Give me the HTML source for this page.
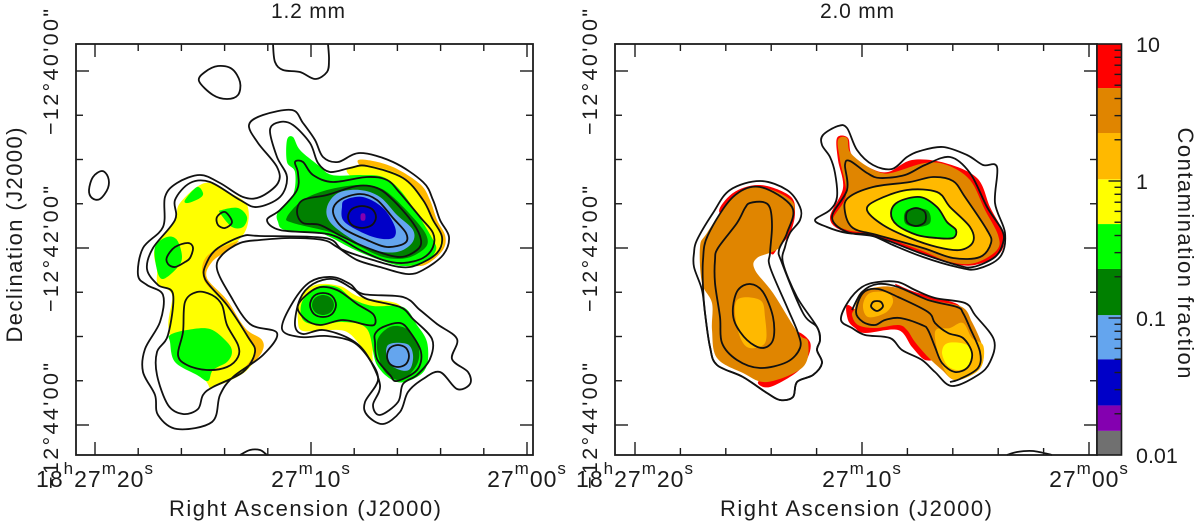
<!DOCTYPE html>
<html lang="en">
<head>
<meta charset="utf-8">
<title>Contamination fraction maps at 1.2 mm and 2.0 mm</title>
<style>
html,body{margin:0;padding:0;background:#fff;width:1200px;height:524px;overflow:hidden}
svg{display:block}
text{font-family:"Liberation Sans",sans-serif;fill:#1c1c1c}
</style>
</head>
<body>
<svg id="chart" xmlns="http://www.w3.org/2000/svg" width="1200" height="524" viewBox="0 0 1200 524">
  <text x="308" y="18" font-size="21" text-anchor="middle" textLength="74">1.2 mm</text>
  <text x="857" y="18" font-size="21" text-anchor="middle" textLength="74">2.0 mm</text>
  <text x="305" y="516" font-size="22" text-anchor="middle" textLength="272">Right Ascension (J2000)</text>
  <text x="856" y="516" font-size="22" text-anchor="middle" textLength="272">Right Ascension (J2000)</text>
  <text transform="translate(22,235) rotate(-90)" font-size="22" text-anchor="middle" textLength="215">Declination (J2000)</text>
  <text transform="translate(1178,253) rotate(90)" font-size="22" text-anchor="middle" textLength="251">Contamination fraction</text>
  <g id="maps"></g>
  <g id="axes"></g>
  <g id="bar"></g>
</svg>
<script>
/* ---------- axis data ---------- */
const raTickSeconds = [20,18,16,14,12,10,8,6,4,2,0];
const raLabelSeconds = [20,10,0];
const raLabelParts = [["18","h","27","m","20","s"],["27","m","10","s"],["27","m","00","s"]];
const decTickArcsec = [0,30,60,90,120,150,180,210,240];
const decLabelArcsec = [0,120,240];
const decLabels = ["\u221212\u00b040'00\"","\u221212\u00b042'00\"","\u221212\u00b044'00\""];

/* ---------- colour bar data ---------- */
const bandEdges = [0.01,0.015,0.023,0.05,0.105,0.228,0.485,1.03,2.24,4.77,10];
const bandColors = ["#707070","#8400b0","#0000c8","#64a5ee","#008000","#00ff00","#ffff00","#ffb900","#e08500","#ff0000"];
const barMultipliers = [2,3,4,5,6,7,8,9];
const barDecades = [0.01,0.1,1];
const barMajorValues = [0.1,1];
const barLabelValues = [10,1,0.1,0.01];
const barLabels = ["10","1","0.1","0.01"];

/* ---------- 1.2 mm contour vertices (map grid cells) ---------- */
const L_outer = [[249,125],[263,115],[292,110],[303,123],[315,140],[323,157],[338,162],[360,153],[393,162],[423,182],[433,200],[440,220],[449,237],[443,255],[423,270],[407,274],[380,267],[357,260],[337,247],[323,240],[290,238],[260,240],[240,243],[222,255],[217,269],[230,295],[250,324],[277,333],[263,355],[233,377],[220,395],[212,422],[177,429],[158,415],[155,395],[143,372],[145,349],[160,322],[163,295],[147,285],[138,275],[143,248],[163,227],[165,197],[177,183],[200,175],[220,183],[243,197],[260,197],[278,183],[277,167],[258,143]];
const L_second = [[270,130],[280,122],[293,125],[310,143],[318,163],[330,172],[350,168],[367,166],[403,178],[423,200],[433,220],[442,237],[437,253],[417,265],[400,267],[373,260],[343,250],[325,238],[260,236],[243,236],[218,248],[207,262],[205,279],[227,305],[248,337],[255,352],[243,372],[213,387],[203,395],[198,409],[183,414],[168,405],[157,375],[157,352],[168,335],[173,294],[158,285],[147,269],[153,248],[175,220],[175,200],[190,183],[210,182],[240,200],[257,207],[280,197],[287,177],[277,157]];
const L_third = [[295,162],[303,162],[313,175],[333,182],[367,177],[387,180],[400,193],[420,217],[433,233],[433,247],[423,258],[403,263],[383,260],[360,250],[337,237],[320,233],[280,230],[267,220],[280,210],[297,190],[298,173]];
const L_fourth = [[297,212],[303,200],[327,195],[357,186],[377,188],[393,200],[413,223],[421,240],[417,250],[400,257],[373,250],[343,237],[320,225],[303,223]];
const L_fifth = [[333,212],[340,200],[360,194],[377,200],[393,218],[406,233],[405,243],[387,247],[367,240],[343,228]];
const L_peak = [[362,206],[372,209],[376,217],[372,225],[362,228],[352,225],[348,217],[352,209]];
const L_topOval = [[199,81],[205,72],[218,66],[232,69],[240,82],[238,95],[227,99],[213,95]];
const L_sideOval = [[89,190],[93,177],[102,171],[108,177],[108,188],[100,199],[92,198]];
const L_topEdge = [[273,44],[275,62],[283,70],[300,72],[315,79],[327,72],[329,60],[328,44]];
const L_bottomEdge = [[240,455],[250,450],[260,450],[267,455]];
const L_ovalA = [[217,217],[225,212],[232,222],[225,228],[218,225]];
const L_ovalB = [[167,257],[175,247],[188,243],[193,248],[190,258],[185,262],[175,267],[168,264]];
const L_ovalC = [[185,302],[197,292],[212,295],[222,305],[227,325],[238,345],[238,357],[227,367],[207,370],[187,365],[178,355],[183,332]];
const LR_outer = [[282,329],[293,302],[310,282],[332,277],[350,284],[363,294],[403,297],[420,310],[437,324],[457,339],[452,359],[468,372],[470,384],[457,389],[440,372],[423,379],[408,392],[400,412],[383,424],[367,415],[365,402],[378,380],[370,360],[353,342],[327,336],[300,337]];
const LR_second = [[295,325],[300,299],[313,284],[333,279],[353,289],[367,299],[400,307],[413,319],[432,339],[430,359],[417,375],[403,384],[398,402],[380,415],[373,405],[380,385],[367,355],[350,339],[323,330],[303,334]];
const LR_thirdA = [[298,305],[317,288],[337,290],[357,304],[373,314],[375,324],[367,325],[343,320],[320,325],[305,319]];
const LR_thirdB = [[375,334],[375,342],[377,359],[390,375],[397,381],[417,370],[421,352],[410,332],[400,323],[383,327]];
const LR_peakA = [[323,293],[332,296],[336,305],[332,314],[323,317],[314,314],[310,305],[314,296]];
const LR_peakB = [[398,345],[406,348],[409,356],[406,364],[398,367],[390,364],[387,356],[390,348]];

/* ---------- 1.2 mm fraction regions (map grid cells) ---------- */
const LF_blobYellow = [[180,203],[205,183],[230,193],[247,205],[247,227],[235,243],[207,258],[205,278],[227,305],[250,335],[257,352],[245,372],[213,387],[205,380],[170,335],[172,295],[158,285],[157,270],[155,248],[175,220]];
const LF_blobOrange = [[207,256],[238,241],[228,250],[212,262],[207,278],[227,300],[245,328],[262,340],[262,352],[250,366],[244,369],[255,352],[248,337],[227,305],[204,280]];
const LF_greenA = [[185,200],[197,187],[203,193],[200,198],[188,203]];
const LF_greenB = [[222,210],[238,208],[247,217],[243,227],[232,227],[220,213]];
const LF_greenC = [[155,247],[167,237],[177,240],[182,257],[177,268],[163,279],[157,270]];
const LF_greenD = [[170,335],[187,330],[210,329],[227,342],[232,352],[227,362],[213,370],[208,381],[197,375],[175,362],[170,342]];
const LF_topOrange = [[358,163],[367,160],[393,167],[420,184],[430,200],[437,220],[445,235],[444,248],[433,260],[420,266],[405,260],[400,220],[380,185]];
const LF_topYellow = [[347,172],[360,165],[377,167],[400,175],[417,190],[427,207],[440,233],[443,245],[435,255],[420,265],[403,265],[385,255],[375,200]];
const LF_topGreen = [[287,140],[293,137],[300,150],[318,165],[332,175],[360,175],[383,177],[400,190],[418,215],[432,238],[436,250],[425,262],[403,266],[380,260],[355,250],[330,237],[318,233],[285,230],[278,222],[278,212],[293,195],[295,172],[287,162]];
const LF_topDark = [[287,217],[303,200],[327,190],[357,185],[377,187],[393,197],[417,222],[427,237],[425,248],[407,258],[383,257],[357,245],[333,233],[293,223]];
const LF_topLight = [[327,207],[338,193],[360,190],[380,197],[397,215],[413,230],[412,243],[397,252],[373,250],[350,238],[330,222]];
const LF_topBlue = [[342,207],[345,200],[363,197],[383,208],[395,227],[393,238],[377,238],[357,230],[343,220]];
const LF_topPurple = [[361,214],[365,214],[365,220],[361,220]];
const LF_lowYellow = [[298,322],[300,299],[315,285],[340,286],[360,297],[398,304],[400,320],[375,345],[372,362],[363,349],[347,332],[325,330],[303,331]];
const LF_lowGreen = [[302,302],[317,287],[337,287],[353,299],[373,306],[403,307],[417,325],[427,342],[427,365],[417,377],[397,382],[377,365],[367,329],[343,322],[320,325],[303,320]];
const LF_lowDarkA = [[377,342],[390,327],[407,329],[418,345],[418,362],[407,377],[397,380],[383,369]];
const LF_lowDarkB = [[323,295],[331,298],[334,305],[331,312],[323,315],[315,312],[312,305],[315,298]];
const LF_lowLight = [[388,345],[407,344],[413,355],[410,369],[400,370],[388,362]];

/* ---------- 2.0 mm contour vertices (map grid cells) ---------- */
const R_outer = [[694,253],[697,240],[713,213],[730,190],[760,181],[787,190],[800,207],[800,220],[790,233],[785,247],[783,263],[797,297],[817,327],[820,340],[817,350],[822,363],[813,375],[797,382],[793,397],[780,400],[767,393],[743,377],[717,365],[710,347],[705,313],[702,290],[694,267]];
const R_second = [[703,260],[708,235],[733,197],[760,187],[792,207],[787,233],[779,250],[782,263],[803,313],[817,327],[820,340],[817,350],[822,363],[813,375],[797,382],[793,397],[780,400],[767,393],[743,377],[717,365],[710,347],[705,313],[703,287]];
const R_third = [[715,260],[718,248],[737,223],[745,208],[750,203],[763,202],[770,208],[772,227],[770,253],[770,267],[787,307],[798,333],[800,348],[787,362],[760,368],[737,360],[722,343],[720,317],[715,283]];
const R_fourth = [[733,307],[738,290],[750,284],[763,292],[773,317],[773,340],[762,348],[747,340],[735,323]];
const RT_outer = [[815,220],[830,210],[837,197],[835,173],[830,157],[822,145],[823,135],[838,126],[847,128],[857,150],[873,165],[892,169],[907,157],[920,151],[943,147],[967,155],[983,165],[997,167],[995,203],[1005,233],[1000,257],[977,269],[957,267],[923,257],[893,245],[870,235],[847,233],[827,227]];
const RT_second = [[832,217],[847,190],[845,165],[850,161],[867,173],[880,178],[905,175],[925,165],[950,157],[970,173],[987,207],[1002,230],[1003,243],[995,257],[973,267],[957,265],[920,253],[877,237],[847,232]];
const RT_third = [[845,212],[848,198],[873,187],[910,182],[933,177],[953,181],[965,197],[987,230],[991,243],[980,257],[953,258],[923,248],[877,235],[853,228]];
const RT_fourth = [[867,210],[877,200],[907,190],[937,192],[950,207],[970,227],[973,242],[960,250],[937,247],[910,238],[883,225]];
const RT_fifth = [[891,213],[898,202],[920,197],[937,207],[947,222],[956,230],[953,238],[937,238],[917,235],[897,225]];
const RT_peak = [[916,208],[924,211],[926,217],[924,223],[916,226],[908,223],[906,217],[908,211]];
const RL_outer = [[841,320],[848,302],[862,287],[878,282],[898,282],[915,290],[935,298],[965,303],[975,315],[994,340],[990,362],[978,375],[952,386],[935,372],[922,360],[902,350],[890,338],[865,335],[852,328]];
const RL_second = [[852,310],[862,292],[878,284],[898,287],[928,300],[957,307],[963,313],[970,328],[980,352],[978,368],[960,379],[950,382]];
const RL_third = [[856,312],[863,293],[878,289],[898,297],[928,312],[935,323],[948,333],[963,338],[972,353],[968,367],[955,372],[942,363],[935,347],[928,330],[922,325],[900,318],[885,320],[875,325],[863,322]];
const RL_oval = [[877,301],[881,302],[883,306],[881,309],[877,311],[873,309],[871,306],[873,302]];
const R_bottomEdge = [[1007,455],[1017,452],[1033,451],[1052,455]];

/* ---------- 2.0 mm fraction regions (map grid cells) ---------- */
const RF_redA = [[720,213],[733,193],[760,185],[790,196],[795,213],[790,233],[778,248],[770,252],[757,210]];
const RF_redB = [[798,332],[810,342],[808,357],[797,372],[770,387],[758,382],[777,370],[797,343]];
const RF_mainOrange = [[700,247],[707,233],[733,197],[760,187],[791,200],[793,217],[780,247],[757,258],[755,270],[773,293],[798,333],[808,342],[803,367],[767,382],[743,373],[717,358],[712,330],[712,303],[702,283]];
const RF_mainLight = [[737,300],[760,300],[765,317],[765,343],[747,347],[737,327]];
const RF_topRed = [[830,218],[843,188],[838,160],[837,138],[848,138],[852,155],[870,168],[888,172],[912,160],[945,163],[977,178],[990,207],[1003,233],[1000,253],[975,265],[950,263],[920,253],[877,237],[845,232]];
const RF_topOrange = [[833,220],[846,195],[840,160],[838,140],[847,138],[850,152],[865,165],[882,173],[895,172],[925,163],[947,165],[970,180],[985,210],[998,235],[997,250],[975,263],[950,262],[920,250],[877,235],[847,230]];
const RF_topDark = [[907,210],[927,210],[930,223],[917,227],[905,223]];
const RF_lowRedA = [[848,305],[848,320],[855,328],[865,333],[898,330],[912,347],[925,360],[935,355],[905,325],[870,320]];
const RF_lowRedB = [[895,284],[915,292],[955,303],[955,308],[915,298]];
const RF_lowOrange = [[855,308],[860,293],[878,287],[898,288],[932,300],[962,307],[972,322],[982,345],[983,362],[975,373],[955,380],[942,370],[928,357],[915,342],[907,330],[898,325],[875,328],[858,325],[852,315]];
const RF_lowLightA = [[863,305],[870,293],[888,293],[893,302],[885,313],[868,317]];
const RF_lowLightB = [[935,332],[950,328],[963,323],[972,338],[983,345],[983,362],[975,373],[955,380],[942,365]];
const RF_lowYellow = [[942,352],[948,343],[967,345],[972,358],[968,367],[957,370],[947,365]];

/* ---------- scales ---------- */
const NS = "http://www.w3.org/2000/svg";
const panels = {
  left:  {x:76,  y:44, w:457, h:411, ra20:95,  ra0:527,  refX:76,  refY:44, id:"left"},
  right: {x:615, y:44, w:482, h:411, ra20:635, ra0:1089, refX:615, refY:44, id:"right"}
};
function raScale(p, sec){ return p.ra0 + (p.ra20 - p.ra0) * sec / 20; }
function decScale(arcsec){ return 71 + arcsec * 1.475; }
function gridX(p, cell){ return p.x + (cell - p.refX); }
function gridY(p, cell){ return p.y + (cell - p.refY); }
function barScale(v){ return 455 - (Math.log10(v) + 2) * 137; }
function bandColor(v){
  for (let i = 0; i < bandColors.length; i++) { if (v < bandEdges[i+1]) return bandColors[i]; }
  return bandColors[bandColors.length-1];
}

/* ---------- drawing helpers ---------- */
function add(parent, tag, name, attrs){
  const el = document.createElementNS(NS, tag);
  
  
  for (const k in attrs) el.setAttribute(k, attrs[k]);
  parent.appendChild(el);
  return el;
}
function smooth(pts, closed){
  const n = pts.length;
  const at = i => closed ? pts[(i+n)%n] : pts[Math.max(0,Math.min(n-1,i))];
  let d = "M" + pts[0][0].toFixed(1) + " " + pts[0][1].toFixed(1);
  const last = closed ? n : n-1;
  for (let i = 0; i < last; i++) {
    const p0 = at(i-1), p1 = at(i), p2 = at(i+1), p3 = at(i+2);
    const c1x = p1[0] + (p2[0]-p0[0])/6, c1y = p1[1] + (p2[1]-p0[1])/6;
    const c2x = p2[0] - (p3[0]-p1[0])/6, c2y = p2[1] - (p3[1]-p1[1])/6;
    d += "C" + c1x.toFixed(1) + " " + c1y.toFixed(1) + " " + c2x.toFixed(1) + " " + c2y.toFixed(1) + " " + p2[0].toFixed(1) + " " + p2[1].toFixed(1);
  }
  return d + (closed ? "Z" : "");
}
function project(p, cells){ return cells.map(c => [gridX(p,c[0]), gridY(p,c[1])]); }
function region(g, p, cells, fraction, name){
  add(g, "path", name, {d: smooth(project(p,cells), true), fill: bandColor(fraction), stroke: "none"});
}
function contour(g, p, cells, name, open){
  add(g, "path", name, {d: smooth(project(p,cells), !open), fill: "none", stroke: "#111", "stroke-width": 1.8, "stroke-linejoin": "round"});
}

/* ---------- maps ---------- */
const maps = document.getElementById("maps");
const gL = add(maps, "g", "map-1-2mm", {});
const gR = add(maps, "g", "map-2-0mm", {});
const L = panels.left, R = panels.right;

region(gL,L,LF_blobYellow,0.7,"region-yellow-west");
region(gL,L,LF_blobOrange,1.5,"region-orange-west");
region(gL,L,LF_greenA,0.3,"region-green-a");
region(gL,L,LF_greenB,0.3,"region-green-b");
region(gL,L,LF_greenC,0.3,"region-green-c");
region(gL,L,LF_greenD,0.3,"region-green-d");
region(gL,L,LF_topOrange,1.5,"region-orange-north");
region(gL,L,LF_topYellow,0.7,"region-yellow-north");
region(gL,L,LF_topGreen,0.3,"region-green-north");
region(gL,L,LF_topDark,0.15,"region-darkgreen-north");
region(gL,L,LF_topLight,0.07,"region-lightblue-north");
region(gL,L,LF_topBlue,0.03,"region-blue-north");
region(gL,L,LF_topPurple,0.018,"region-purple-north");
region(gL,L,LF_lowYellow,0.7,"region-yellow-south");
region(gL,L,LF_lowGreen,0.3,"region-green-south");
region(gL,L,LF_lowDarkA,0.15,"region-darkgreen-south-east");
region(gL,L,LF_lowDarkB,0.15,"region-darkgreen-south-west");
region(gL,L,LF_lowLight,0.07,"region-lightblue-south");

contour(gL,L,L_outer,"contour-outer-main");
contour(gL,L,L_second,"contour-second-main");
contour(gL,L,L_third,"contour-third-north");
contour(gL,L,L_fourth,"contour-fourth-north");
contour(gL,L,L_fifth,"contour-fifth-north");
contour(gL,L,L_peak,"contour-peak-north");
contour(gL,L,L_topOval,"contour-top-oval");
contour(gL,L,L_sideOval,"contour-side-oval");
contour(gL,L,L_topEdge,"contour-top-edge",true);
contour(gL,L,L_bottomEdge,"contour-bottom-edge",true);
contour(gL,L,L_ovalA,"contour-west-oval-a");
contour(gL,L,L_ovalB,"contour-west-oval-b");
contour(gL,L,L_ovalC,"contour-west-oval-c");
contour(gL,L,LR_outer,"contour-south-outer");
contour(gL,L,LR_second,"contour-south-second");
contour(gL,L,LR_thirdA,"contour-south-third-a");
contour(gL,L,LR_thirdB,"contour-south-third-b");
contour(gL,L,LR_peakA,"contour-south-peak-a");
contour(gL,L,LR_peakB,"contour-south-peak-b");

region(gR,R,RF_redA,7,"region-red-west-top");
region(gR,R,RF_redB,7,"region-red-west-bottom");
region(gR,R,RF_mainOrange,3,"region-darkorange-west");
region(gR,R,RF_mainLight,1.5,"region-orange-west");
region(gR,R,RF_topRed,7,"region-red-north");
region(gR,R,RF_topOrange,3,"region-darkorange-north");
region(gR,R,RT_third,1.5,"region-orange-north");
region(gR,R,RT_fourth,0.7,"region-yellow-north");
region(gR,R,RT_fifth,0.3,"region-green-north");
region(gR,R,RF_topDark,0.15,"region-darkgreen-north");
region(gR,R,RF_lowRedA,7,"region-red-south-lower");
region(gR,R,RF_lowRedB,7,"region-red-south-upper");
region(gR,R,RF_lowOrange,3,"region-darkorange-south");
region(gR,R,RF_lowLightA,1.5,"region-orange-south-west");
region(gR,R,RF_lowLightB,1.5,"region-orange-south-east");
region(gR,R,RF_lowYellow,0.7,"region-yellow-south");

contour(gR,R,R_outer,"contour-west-outer");
contour(gR,R,R_second,"contour-west-second");
contour(gR,R,R_third,"contour-west-third");
contour(gR,R,R_fourth,"contour-west-fourth");
contour(gR,R,RT_outer,"contour-north-outer");
contour(gR,R,RT_second,"contour-north-second");
contour(gR,R,RT_third,"contour-north-third");
contour(gR,R,RT_fourth,"contour-north-fourth");
contour(gR,R,RT_fifth,"contour-north-fifth");
contour(gR,R,RT_peak,"contour-north-peak");
contour(gR,R,RL_outer,"contour-south-outer");
contour(gR,R,RL_second,"contour-south-second",true);
contour(gR,R,RL_third,"contour-south-third");
contour(gR,R,RL_oval,"contour-south-oval");
contour(gR,R,R_bottomEdge,"contour-bottom-edge",true);

/* ---------- axes ---------- */
const axes = document.getElementById("axes");
function tick(g, x1, y1, x2, y2, name){
  add(g, "line", name, {x1:x1, y1:y1, x2:x2, y2:y2, stroke:"#1c1c1c", "stroke-width":1.4});
}
function drawAxes(p){
  const g = add(axes, "g", p.id + "-axes", {});
  const bottom = p.y + p.h, right = p.x + p.w;
  raTickSeconds.forEach(s => {
    const x = raScale(p, s), len = s % 10 === 0 ? 13 : 7;
    tick(g, x, p.y, x, p.y + len, "ra-tick-top");
    tick(g, x, bottom, x, bottom - len, "ra-tick-bottom");
  });
  decTickArcsec.forEach(a => {
    const y = decScale(a), len = a % 120 === 0 ? 13 : 7;
    tick(g, p.x, y, p.x + len, y, "dec-tick-left");
    tick(g, right, y, right - len, y, "dec-tick-right");
  });
  add(g, "rect", p.id + "-frame", {x:p.x, y:p.y, width:p.w, height:p.h, fill:"none", stroke:"#1c1c1c", "stroke-width":1.8});
  raLabelSeconds.forEach((s, i) => {
    const parts = raLabelParts[i];
    const t = add(g, "text", "ra-tick-label", {x:raScale(p,s), y:487, "font-size":23, "text-anchor":"middle", "letter-spacing":1});
    parts.forEach((part, j) => {
      const sup = j % 2 === 1;
      const ts = document.createElementNS(NS, "tspan");
      ts.setAttribute("font-size", sup ? 17 : 23);
      if (sup) ts.setAttribute("dy", -13);
      else if (j > 0) ts.setAttribute("dy", 13);
      ts.textContent = part;
      t.appendChild(ts);
    });
  });
  decLabelArcsec.forEach((a, i) => {
    const baseX = p.x - 18;
    add(g, "text", "dec-tick-label", {transform:"translate(" + baseX + "," + (decScale(a)+1) + ") rotate(-90)", "font-size":21.5, "text-anchor":"middle", textLength:126}).textContent = decLabels[i];
  });
}
drawAxes(L);
drawAxes(R);

/* ---------- colour bar ---------- */
const bar = document.getElementById("bar");
const barX = 1097, barW = 24.5;
bandColors.forEach((c, i) => {
  const top = barScale(bandEdges[i+1]), bot = barScale(bandEdges[i]);
  add(bar, "rect", "colorbar-band", {x:barX, y:top, width:barW, height:bot-top, fill:c});
});
barDecades.forEach(d => {
  barMultipliers.forEach(m => {
    const y = barScale(d*m);
    tick(bar, barX+barW, y, barX+barW-7, y, "colorbar-minor-tick");
  });
});
barMajorValues.forEach(v => {
  const y = barScale(v);
  tick(bar, barX+barW, y, barX+barW-13, y, "colorbar-major-tick");
});
add(bar, "rect", "colorbar-frame", {x:barX, y:barScale(10), width:barW, height:barScale(0.01)-barScale(10), fill:"none", stroke:"#1c1c1c", "stroke-width":1.6});
barLabelValues.forEach((v, i) => {
  add(bar, "text", "colorbar-label", {x:1136, y:barScale(v)+8, "font-size":21.5}).textContent = barLabels[i];
});
</script>
</body>
</html>
